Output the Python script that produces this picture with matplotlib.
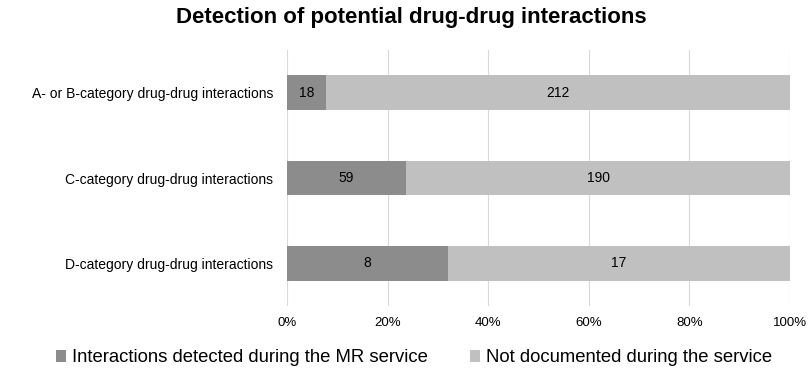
import numpy as np
import matplotlib.pyplot as plt
from matplotlib.ticker import PercentFormatter

plt.rcParams['font.family'] = ['Liberation Sans', 'DejaVu Sans']

# データ
categories = [
    "A- or B-category drug-drug interactions",
    "C-category drug-drug interactions",
    "D-category drug-drug interactions",
]
detected = np.array([18, 59, 8])
not_documented = np.array([212, 190, 17])
series_names = ["Interactions detected during the MR service",
                "Not documented during the service"]

totals = detected + not_documented
det_pct = detected / totals * 100
nd_pct = not_documented / totals * 100

fig = plt.figure(figsize=(8.09, 3.74), dpi=100)
ax = fig.add_axes([287 / 809, 1 - 306 / 374, 503 / 809, 256 / 374])

y = np.arange(len(categories))
bh = 0.41
b1 = ax.barh(y, det_pct, height=bh, color="#8c8c8c", label=series_names[0])
b2 = ax.barh(y, nd_pct, left=det_pct, height=bh, color="#c0c0c0", label=series_names[1])
ax.bar_label(b1, labels=[str(v) for v in detected], label_type="center", fontsize=10)
ax.bar_label(b2, labels=[str(v) for v in not_documented], label_type="center", fontsize=10)

ax.set_xlim(0, 100)
ax.set_ylim(2.5, -0.5)
ax.set_yticks(y)
ax.set_yticklabels(categories, fontsize=10)
ax.set_xticks(np.arange(0, 101, 20))
ax.xaxis.set_major_formatter(PercentFormatter(decimals=0))
ax.tick_params(axis="x", labelsize=9.5, length=0, pad=8)
ax.tick_params(axis="y", length=0, pad=10)
ax.grid(axis="x", color="#d9d9d9", linewidth=0.8)
ax.set_axisbelow(True)
for s in ax.spines.values():
    s.set_visible(False)

fig.text(0.508, 1 - 18 / 374, "Detection of potential drug-drug interactions",
         ha="center", va="center", fontsize=16, fontweight="bold")

fig.legend(handles=[b1, b2], labels=series_names, loc="center",
           bbox_to_anchor=(0.512, 1 - 358 / 374), ncol=2, frameon=False,
           fontsize=13.3, handlelength=0.55, handleheight=0.55, handletextpad=0.3,
           columnspacing=2.3)

plt.savefig("out.png", dpi=100)
